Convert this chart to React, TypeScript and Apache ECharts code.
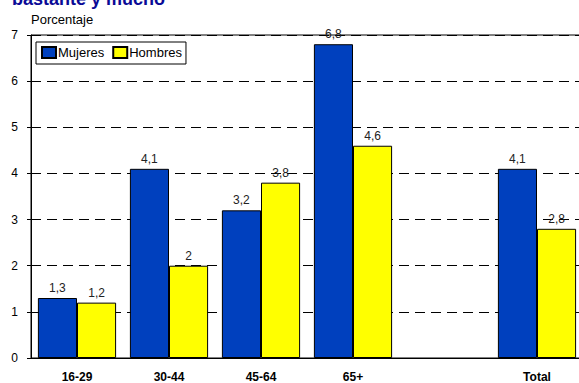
import React, { useEffect, useRef } from "react";
import * as echarts from "echarts";

const categories = ["16-29", "30-44", "45-64", "65+", "", "Total"];
const mujeres = [1.3, 4.1, 3.2, 6.8, null, 4.1];
const hombres = [1.2, 2, 3.8, 4.6, null, 2.8];
const yMin = 0;
const yMax = 7;
const yInterval = 1;

const FONT = "'Liberation Sans', Arial, sans-serif";

export default function App() {
  const ref = useRef<HTMLDivElement>(null);
  useEffect(() => {
    if (!ref.current) return;
    const chart = echarts.init(ref.current, undefined, { renderer: "svg" });
    const labelCfg = {
      show: true,
      position: "top" as const,
      distance: 4,
      color: "#222",
      fontSize: 12,
      fontFamily: FONT,
      formatter: (p: any) => String(p.value).replace(".", ","),
    };
    chart.setOption({
      animation: false,
      backgroundColor: "#fff",
      textStyle: { fontFamily: FONT },
      graphic: [
        {
          type: "text",
          left: 12,
          top: -10,
          style: {
            text: "bastante y mucho",
            font: `bold 18px ${FONT}`,
            fill: "#0a0a96",
          },
        },
        {
          type: "text",
          left: 31,
          top: 13,
          style: {
            text: "Porcentaje",
            font: `13px ${FONT}`,
            fill: "#000",
          },
        },
      ],
      legend: {
        left: 36,
        top: 42,
        orient: "horizontal",
        backgroundColor: "#fff",
        borderColor: "#000",
        borderWidth: 1,
        borderRadius: 0,
        padding: [4, 4, 5, 5],
        itemGap: 8,
        itemWidth: 14,
        itemHeight: 11,
        icon: "rect",
        textStyle: { fontSize: 13, color: "#000", fontFamily: FONT, padding: [0, 0, 0, -3] },
        data: ["Mujeres", "Hombres"],
      },
      grid: {
        left: 31,
        top: 35,
        width: 552,
        height: 328,
        show: true,
        borderColor: "#000",
        borderWidth: 1,
        backgroundColor: "transparent",
      },
      xAxis: {
        type: "category",
        data: categories,
        axisLine: { show: true, lineStyle: { color: "#000", width: 1 } },
        axisTick: { show: false },
        axisLabel: {
          color: "#000",
          fontWeight: "bold",
          fontSize: 12,
          fontFamily: FONT,
          margin: 13,
          interval: 0,
        },
      },
      yAxis: {
        type: "value",
        min: yMin,
        max: yMax,
        interval: yInterval,
        axisLine: { show: true, lineStyle: { color: "#000", width: 1 } },
        axisTick: { show: true, length: 4, lineStyle: { color: "#000" } },
        axisLabel: { color: "#000", fontSize: 12, fontFamily: FONT, margin: 13 },
        splitLine: {
          show: true,
          lineStyle: { color: "#000", width: 1, type: [10, 6] },
        },
      },
      series: [
        {
          name: "Mujeres",
          type: "bar",
          data: mujeres,
          barGap: "0%",
          barCategoryGap: "15%",
          itemStyle: { color: "#0040BE", borderColor: "#000", borderWidth: 1 },
          label: labelCfg,
        },
        {
          name: "Hombres",
          type: "bar",
          data: hombres,
          barGap: "0%",
          barCategoryGap: "15%",
          itemStyle: { color: "#FFFF00", borderColor: "#000", borderWidth: 1 },
          label: labelCfg,
        },
      ],
    });
    return () => chart.dispose();
  }, []);
  return (
    <div
      style={{
        position: "fixed",
        left: 0,
        top: 0,
        width: 579,
        height: 383,
        overflow: "hidden",
        background: "#fff",
      }}
    >
      <div ref={ref} style={{ width: 590, height: 383 }} />
    </div>
  );
}
